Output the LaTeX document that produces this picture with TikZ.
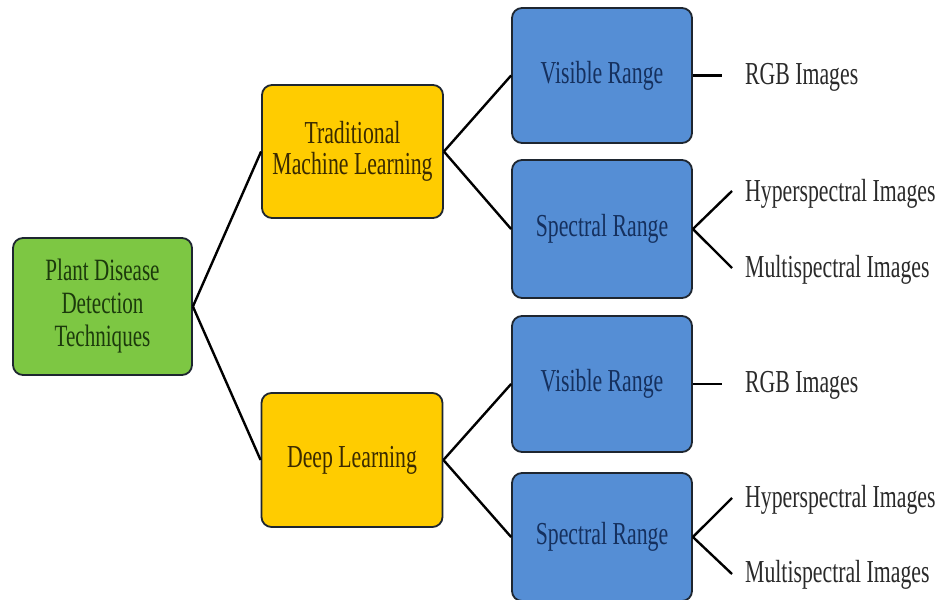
\documentclass[tikz,border=0pt]{standalone}
\usepackage{fontspec}
\setmainfont{Liberation Serif}
\newfontfamily\condfont[FakeStretch=0.68]{Liberation Serif}
\definecolor{gfill}{HTML}{7DC743}
\definecolor{yfill}{HTML}{FFCC00}
\definecolor{bfill}{HTML}{558ED5}
\definecolor{gtext}{HTML}{1C3A0C}
\definecolor{ytext}{HTML}{3A2A00}
\definecolor{btext}{HTML}{15305E}
\definecolor{ltext}{HTML}{2A2A2A}
\definecolor{bord}{HTML}{1E2630}
\tikzset{
  box/.style={draw=bord, line width=1.8pt, rounded corners=10pt, align=center,
    inner sep=0pt, font=\condfont\fontsize{32}{31}\selectfont},
  rootbox/.style={box, fill=gfill, text=gtext, minimum width=179pt, minimum height=137pt,
    font=\condfont\fontsize{31}{33}\selectfont},
  methbox/.style={box, fill=yfill, text=ytext, minimum width=181pt, minimum height=133pt},
  rangebox/.style={box, fill=bfill, text=btext, minimum width=180pt, minimum height=135pt},
  leaf/.style={anchor=west, inner sep=0pt, text=ltext, font=\condfont\fontsize{32}{31}\selectfont},
  link/.style={line width=2.4pt, black}
}
\begin{document}
\begin{tikzpicture}[x=1pt,y=-1pt]
\clip (0,0) rectangle (941,599);
\fill[white] (0,0) rectangle (941,599);
% main nodes
\node[rootbox] (root) at (102.5,306.5) {Plant Disease\\Detection\\Techniques};
\node[methbox] (tml) at (352.5,151.5) {Traditional\\Machine Learning};
\node[methbox, minimum height=134pt] (dl) at (352,460) {Deep Learning};
\node[rangebox] (v1) at (602,75.5) {Visible Range};
\node[rangebox, minimum height=138pt] (s1) at (602,229) {Spectral Range};
\node[rangebox, minimum height=136pt] (v2) at (602,384) {Visible Range};
\node[rangebox, minimum height=128pt] (s2) at (602,537) {Spectral Range};
% leaf labels
\node[leaf] (rgb1) at (745,77) {RGB Images};
\node[leaf] (hyp1) at (745,194) {Hyperspectral Images};
\node[leaf] (mul1) at (745,270) {Multispectral Images};
\node[leaf] (rgb2) at (745,385) {RGB Images};
\node[leaf] (hyp2) at (745,500) {Hyperspectral Images};
\node[leaf] (mul2) at (745,575) {Multispectral Images};
% free ends of leaf connectors
\coordinate (e1) at (722,75.5);
\coordinate (h1) at (732,191);
\coordinate (m1) at (732,268);
\coordinate (e2) at (722,384);
\coordinate (h2) at (732,498);
\coordinate (m2) at (732,574);
% connectors
\draw[link] (root.east) -- (tml.west);
\draw[link] (root.east) -- (dl.west);
\draw[link] (tml.east) -- (v1.west);
\draw[link] (tml.east) -- (s1.west);
\draw[link] (dl.east) -- (v2.west);
\draw[link] (dl.east) -- (s2.west);
\draw[link] (v1.east) -- (e1);
\draw[link] (s1.east) -- (h1);
\draw[link] (s1.east) -- (m1);
\draw[link] (v2.east) -- (e2);
\draw[link] (s2.east) -- (h2);
\draw[link] (s2.east) -- (m2);
\end{tikzpicture}
\end{document}
